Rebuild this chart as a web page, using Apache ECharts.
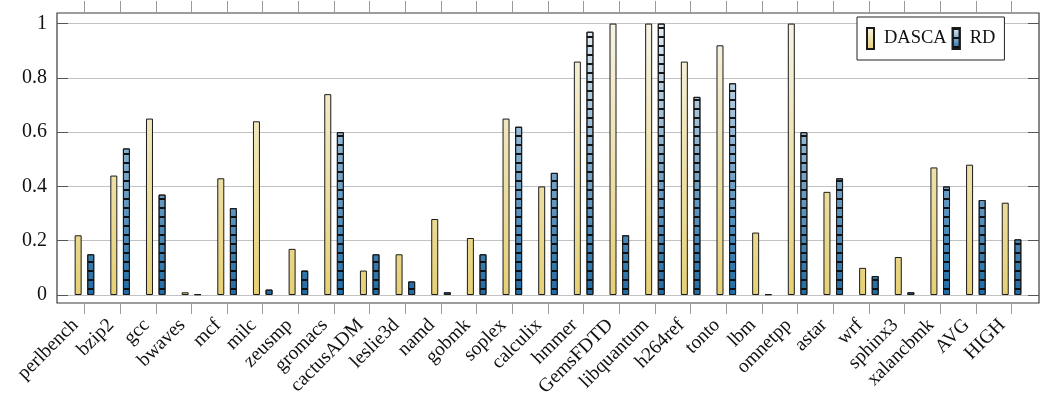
<!DOCTYPE html>
<html>
<head>
<meta charset="utf-8">
<title>DASCA vs RD</title>
<script src="https://cdn.jsdelivr.net/npm/echarts@6/dist/echarts.min.js"></script>
<style>
  html, body { margin: 0; padding: 0; background: #fff; }
  #chart { width: 1040px; height: 401px; }
</style>
</head>
<body>
<div id="chart"></div>
<script>
const categories = ['perlbench', 'bzip2', 'gcc', 'bwaves', 'mcf', 'milc', 'zeusmp', 'gromacs',
  'cactusADM', 'leslie3d', 'namd', 'gobmk', 'soplex', 'calculix', 'hmmer', 'GemsFDTD',
  'libquantum', 'h264ref', 'tonto', 'lbm', 'omnetpp', 'astar', 'wrf', 'sphinx3',
  'xalancbmk', 'AVG', 'HIGH']
const dascaValues = [0.22, 0.44, 0.65, 0.01, 0.43, 0.64, 0.17, 0.74, 0.09, 0.15, 0.28, 0.21,
  0.65, 0.40, 0.86, 1.00, 1.00, 0.86, 0.92, 0.23, 1.00, 0.38, 0.10, 0.14, 0.47, 0.48, 0.34]
const rdValues = [0.15, 0.54, 0.37, 0.003, 0.32, 0.02, 0.09, 0.60, 0.15, 0.05, 0.01, 0.15,
  0.62, 0.45, 0.97, 0.22, 1.00, 0.73, 0.78, 0.003, 0.60, 0.43, 0.07, 0.01, 0.40, 0.35, 0.205]
const yTicks = [0, 0.2, 0.4, 0.6, 0.8, 1]

const FONT = '"Liberation Serif", "DejaVu Serif", serif'
const PLOT_TOP = 13
const PLOT_BOTTOM = 303

const shade = (top, bottom, global) => ({
  type: 'linear',
  x: 0, y: global ? PLOT_TOP : 0, x2: 0, y2: global ? PLOT_BOTTOM : 1,
  global: global,
  colorStops: [{ offset: 0, color: top }, { offset: 1, color: bottom }]
})
const yellowTop = '#f7f5ea'
const yellowBottom = '#e6cf72'
const blueTop = '#eaf1f6'
const blueBottom = '#1a68a3'

const stripes = {
  symbol: 'rect',
  symbolSize: 1,
  color: 'rgba(10,10,10,0.95)',
  dashArrayX: [[1, 0]],
  dashArrayY: [1.6, 6.2],
  rotation: 0
}

const toPoints = (values) => values.map((v, i) => [i, v])
const xIndexes = categories.map((c, i) => i)

const chart = echarts.init(document.getElementById('chart'))

const xAxisBase = {
  type: 'value',
  min: -0.77,
  max: 26.77,
  splitLine: { show: false },
  axisLine: { show: false, onZero: false },
  axisTick: {
    customValues: xIndexes,
    inside: false,
    length: 11,
    lineStyle: { color: '#9a9a9a', width: 1 }
  }
}

const yAxisBase = {
  type: 'value',
  min: -0.0295,
  max: 1.039,
  axisLine: { show: false, onZero: false },
  axisTick: {
    customValues: yTicks,
    inside: true,
    length: 11,
    lineStyle: { color: '#555', width: 1 }
  }
}

chart.setOption({
  animation: false,
  grid: {
    left: 57,
    right: 1,
    top: PLOT_TOP,
    bottom: 401 - PLOT_BOTTOM,
    show: true,
    borderColor: '#3a3a3a',
    borderWidth: 1.2,
    backgroundColor: 'transparent'
  },
  legend: {
    left: 857,
    top: 17,
    icon: 'rect',
    itemWidth: 7,
    itemHeight: 21,
    itemGap: 5,
    padding: [10, 9, 10, 9],
    backgroundColor: '#fff',
    borderColor: '#222',
    borderWidth: 1,
    textStyle: { fontFamily: FONT, fontSize: 18.5, color: '#111', padding: [0, 0, 0, 5] },
    data: [
      { name: 'DASCA', itemStyle: { color: shade(yellowTop, yellowBottom, false) } },
      { name: 'RD', itemStyle: { color: shade(blueTop, blueBottom, false) } }
    ]
  },
  xAxis: [
    {
      ...xAxisBase,
      position: 'bottom',
      axisLabel: {
        customValues: xIndexes,
        rotate: 45,
        margin: 10,
        padding: [0, 13, 0, 0],
        fontFamily: FONT,
        fontSize: 19.5,
        color: '#111',
        formatter: (v) => categories[Math.round(v)]
      }
    },
    {
      ...xAxisBase,
      position: 'top',
      axisTick: { ...xAxisBase.axisTick, length: 12 },
      axisLabel: { show: false }
    }
  ],
  yAxis: [
    {
      ...yAxisBase,
      position: 'left',
      splitLine: { show: true, lineStyle: { color: '#c2c2c2', width: 1 } },
      axisLabel: {
        customValues: yTicks,
        margin: 10,
        fontFamily: FONT,
        fontSize: 20,
        color: '#111',
        formatter: (v) => String(Math.round(v * 10) / 10)
      }
    },
    {
      ...yAxisBase,
      position: 'right',
      splitLine: { show: false },
      axisLabel: { show: false }
    }
  ],
  series: [
    {
      name: 'DASCA',
      type: 'bar',
      xAxisIndex: 0,
      yAxisIndex: 0,
      barWidth: 7,
      barGap: '80%',
      data: toPoints(dascaValues),
      itemStyle: {
        color: shade(yellowTop, yellowBottom, true),
        borderColor: '#1a1a1a',
        borderWidth: 1
      }
    },
    {
      name: 'RD',
      type: 'bar',
      xAxisIndex: 0,
      yAxisIndex: 0,
      barWidth: 7,
      barGap: '80%',
      data: toPoints(rdValues),
      itemStyle: {
        color: shade(blueTop, blueBottom, true),
        borderColor: '#1a1a1a',
        borderWidth: 1,
        decal: stripes
      }
    }
  ]
})

window.addEventListener('resize', () => {
  chart.resize()
})
</script>
</body>
</html>
